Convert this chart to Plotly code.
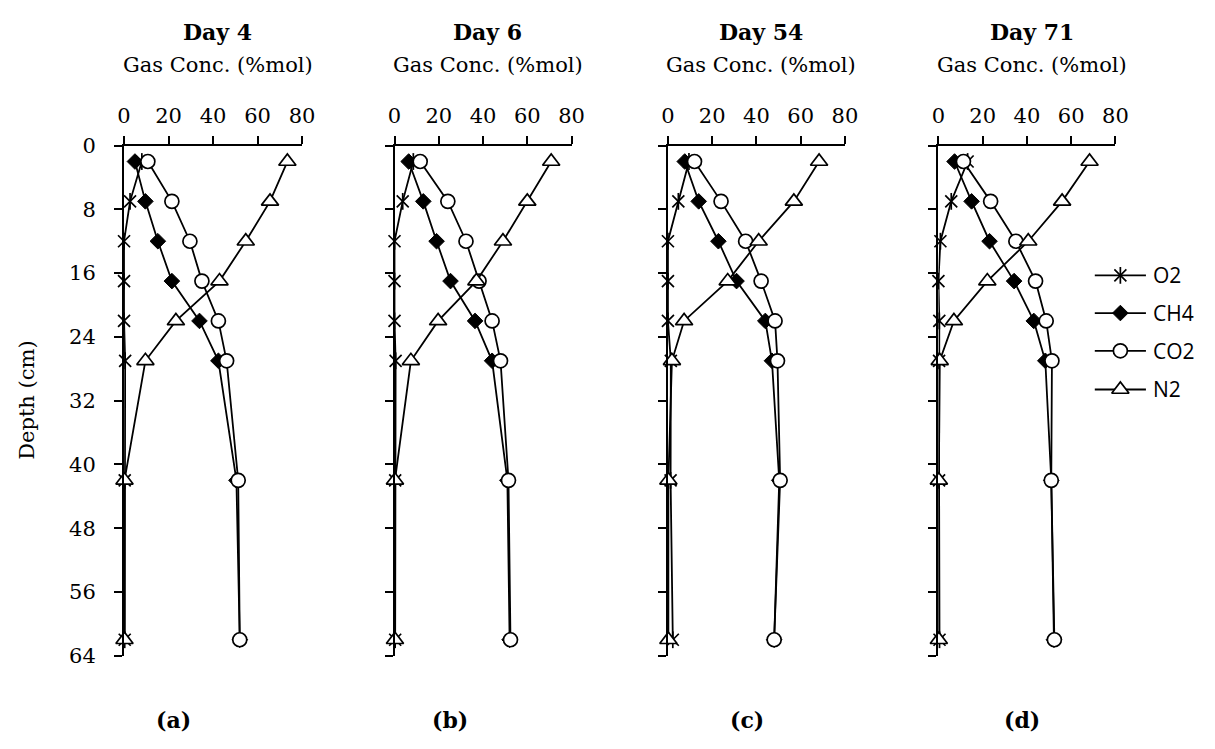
import plotly.graph_objects as go

# Sampling depths (cm) and gas concentrations (%mol) per sampling day
depth = [2, 7, 12, 17, 22, 27, 42, 62]

days = ["Day 4", "Day 6", "Day 54", "Day 71"]
panel_tags = ["(a)", "(b)", "(c)", "(d)"]

o2 = [
    [8, 2.7, 0, 0, 0, 0.5, 0.3, 0.3],
    [8.5, 3.7, 0, 0, 0, 0.5, 0.3, 0.3],
    [9.5, 4.7, 0, 0, 0, 1.3, 1.2, 2.2],
    [13.2, 5.8, 0.9, 0, 0.4, 0.3, 0.3, 0.5],
]
ch4 = [
    [4.9, 9.6, 15.2, 21.5, 33.9, 42.4, 50.5, 52.0],
    [6.4, 13.0, 19.0, 25.3, 36.4, 44.1, 51.0, 52.0],
    [7.6, 13.9, 22.8, 31.0, 44.0, 47.0, 50.3, 48.0],
    [7.3, 15.0, 23.1, 34.2, 43.1, 48.3, 51.0, 52.2],
]
co2 = [
    [10.7, 21.5, 29.6, 35.0, 42.4, 46.1, 51.3, 52.0],
    [11.6, 24.1, 32.3, 38.2, 44.1, 47.9, 51.5, 52.4],
    [12.0, 24.0, 35.1, 42.1, 48.4, 49.5, 50.7, 48.0],
    [11.3, 23.6, 35.0, 43.9, 48.7, 51.3, 51.0, 52.4],
]
n2 = [
    [73.4, 65.6, 54.7, 42.9, 23.3, 9.6, 0.2, 0.2],
    [70.8, 60.0, 49.0, 37.0, 19.7, 7.4, 0.2, 0.2],
    [68.3, 56.9, 41.0, 27.0, 7.3, 1.8, 0.2, 0.2],
    [68.3, 55.9, 40.6, 22.1, 7.0, 0.6, 0.2, 0.2],
]

gas_names = ["O2", "CH4", "CO2", "N2"]
depth_ticks = [0, 8, 16, 24, 32, 40, 48, 56, 64]
conc_ticks = [0, 20, 40, 60, 80]

W, H = 1215, 749
SERIF = "DejaVu Serif"
SANS = "Open Sans"

# panel horizontal extents in pixels, shared vertical extent
panel_px = [(119, 300), (394, 574), (672, 852), (947, 1127)]
top_px, bot_px = 138, 665


def px_x(p):
    return p / W


def px_y(p):
    return 1 - p / H


LW = 1.8
styles = {
    "O2": dict(symbol="x-thin-open", size=12, color="black", line=dict(width=1.7, color="black")),
    "CH4": dict(symbol="diamond", size=12, color="black", line=dict(width=1, color="black")),
    "CO2": dict(symbol="circle", size=14, color="white", line=dict(width=1.7, color="black")),
    "N2": dict(symbol="triangle-up", size=15, color="white", line=dict(width=1.7, color="black")),
}
# vertical stroke that turns the O2 cross into an asterisk
o2_stroke = dict(symbol="line-ns-open", size=12, color="black", line=dict(width=1.7, color="black"))

fig = go.Figure()
annotations = []


def text(t, x, y, size, bold=False, family=SERIF, **kw):
    annotations.append(dict(
        text=("<b>%s</b>" % t) if bold else t, x=x, y=y, xref="paper", yref="paper",
        xanchor="center", yanchor="middle", showarrow=False,
        font=dict(family=family, size=size, color="black"), **kw))


for i in range(4):
    ax = "" if i == 0 else str(i + 1)
    series = {"O2": o2[i], "CH4": ch4[i], "CO2": co2[i], "N2": n2[i]}
    for g in gas_names:
        fig.add_trace(go.Scatter(
            x=series[g], y=depth, mode="lines+markers", name=g,
            xaxis="x" + ax, yaxis="y" + ax, showlegend=False, cliponaxis=False,
            line=dict(color="black", width=LW), marker=styles[g],
        ))
        if g == "O2":
            fig.add_trace(go.Scatter(
                x=series[g], y=depth, mode="markers", xaxis="x" + ax, yaxis="y" + ax,
                showlegend=False, cliponaxis=False, hoverinfo="skip", marker=o2_stroke,
            ))

    x0, x1 = panel_px[i]
    fig.update_layout(**{
        "xaxis" + ax: dict(
            domain=[px_x(x0), px_x(x1)], range=[0, 80], side="top", anchor="y" + ax,
            tickvals=conc_ticks, ticks="outside", ticklen=8, tickwidth=1.6, tickcolor="black",
            showline=True, linecolor="black", linewidth=2, showgrid=False, zeroline=False,
            ticklabelstandoff=4,
            tickfont=dict(family=SERIF, size=21, color="black"),
        ),
        "yaxis" + ax: dict(
            domain=[px_y(bot_px), px_y(top_px)], range=[64, 0], anchor="x" + ax,
            tickvals=depth_ticks, ticks="outside", ticklen=8, tickwidth=1.6, tickcolor="black",
            showline=True, linecolor="black", linewidth=2, showgrid=False, zeroline=False,
            showticklabels=(i == 0), ticklabelstandoff=14,
            tickfont=dict(family=SERIF, size=21, color="black"),
        ),
    })
    cx = (x0 + x1) / 2 + 5
    text(days[i], px_x(cx), px_y(21), 22, bold=True)
    text("Gas Conc. (%mol)", px_x(cx), px_y(55), 21)

tag_x = [169, 450, 752, 1032]
for t, tx in zip(panel_tags, tag_x):
    text(t, px_x(tx), px_y(731), 22, bold=True)

text("Depth (cm)", px_x(20), px_y(401), 21, textangle=-90)

# legend drawn on its own pixel-scaled axis
leg_rows = [272, 311, 350, 390]
fig.update_layout(
    xaxis5=dict(domain=[px_x(1095), px_x(1215)], range=[1095, 1215], visible=False, anchor="y5"),
    yaxis5=dict(domain=[px_y(420), px_y(250)], range=[420, 250], visible=False, anchor="x5"),
)
for g, ry in zip(gas_names, leg_rows):
    fig.add_trace(go.Scatter(x=[1106, 1158], y=[ry, ry], mode="lines", xaxis="x5", yaxis="y5",
                             showlegend=False, hoverinfo="skip", line=dict(color="black", width=LW)))
    fig.add_trace(go.Scatter(x=[1132], y=[ry], mode="markers", xaxis="x5", yaxis="y5",
                             showlegend=False, hoverinfo="skip", marker=styles[g]))
    if g == "O2":
        fig.add_trace(go.Scatter(x=[1132], y=[ry], mode="markers", xaxis="x5", yaxis="y5",
                                 showlegend=False, hoverinfo="skip", marker=o2_stroke))
    annotations.append(dict(text=g, x=1163, y=ry, xref="x5", yref="y5", xanchor="left",
                            yanchor="middle", showarrow=False,
                            font=dict(family=SANS, size=21, color="black")))

fig.update_layout(
    width=W, height=H, margin=dict(l=0, r=0, t=0, b=0),
    paper_bgcolor="white", plot_bgcolor="white",
    annotations=annotations, showlegend=False,
)

fig.write_html("out.html")
